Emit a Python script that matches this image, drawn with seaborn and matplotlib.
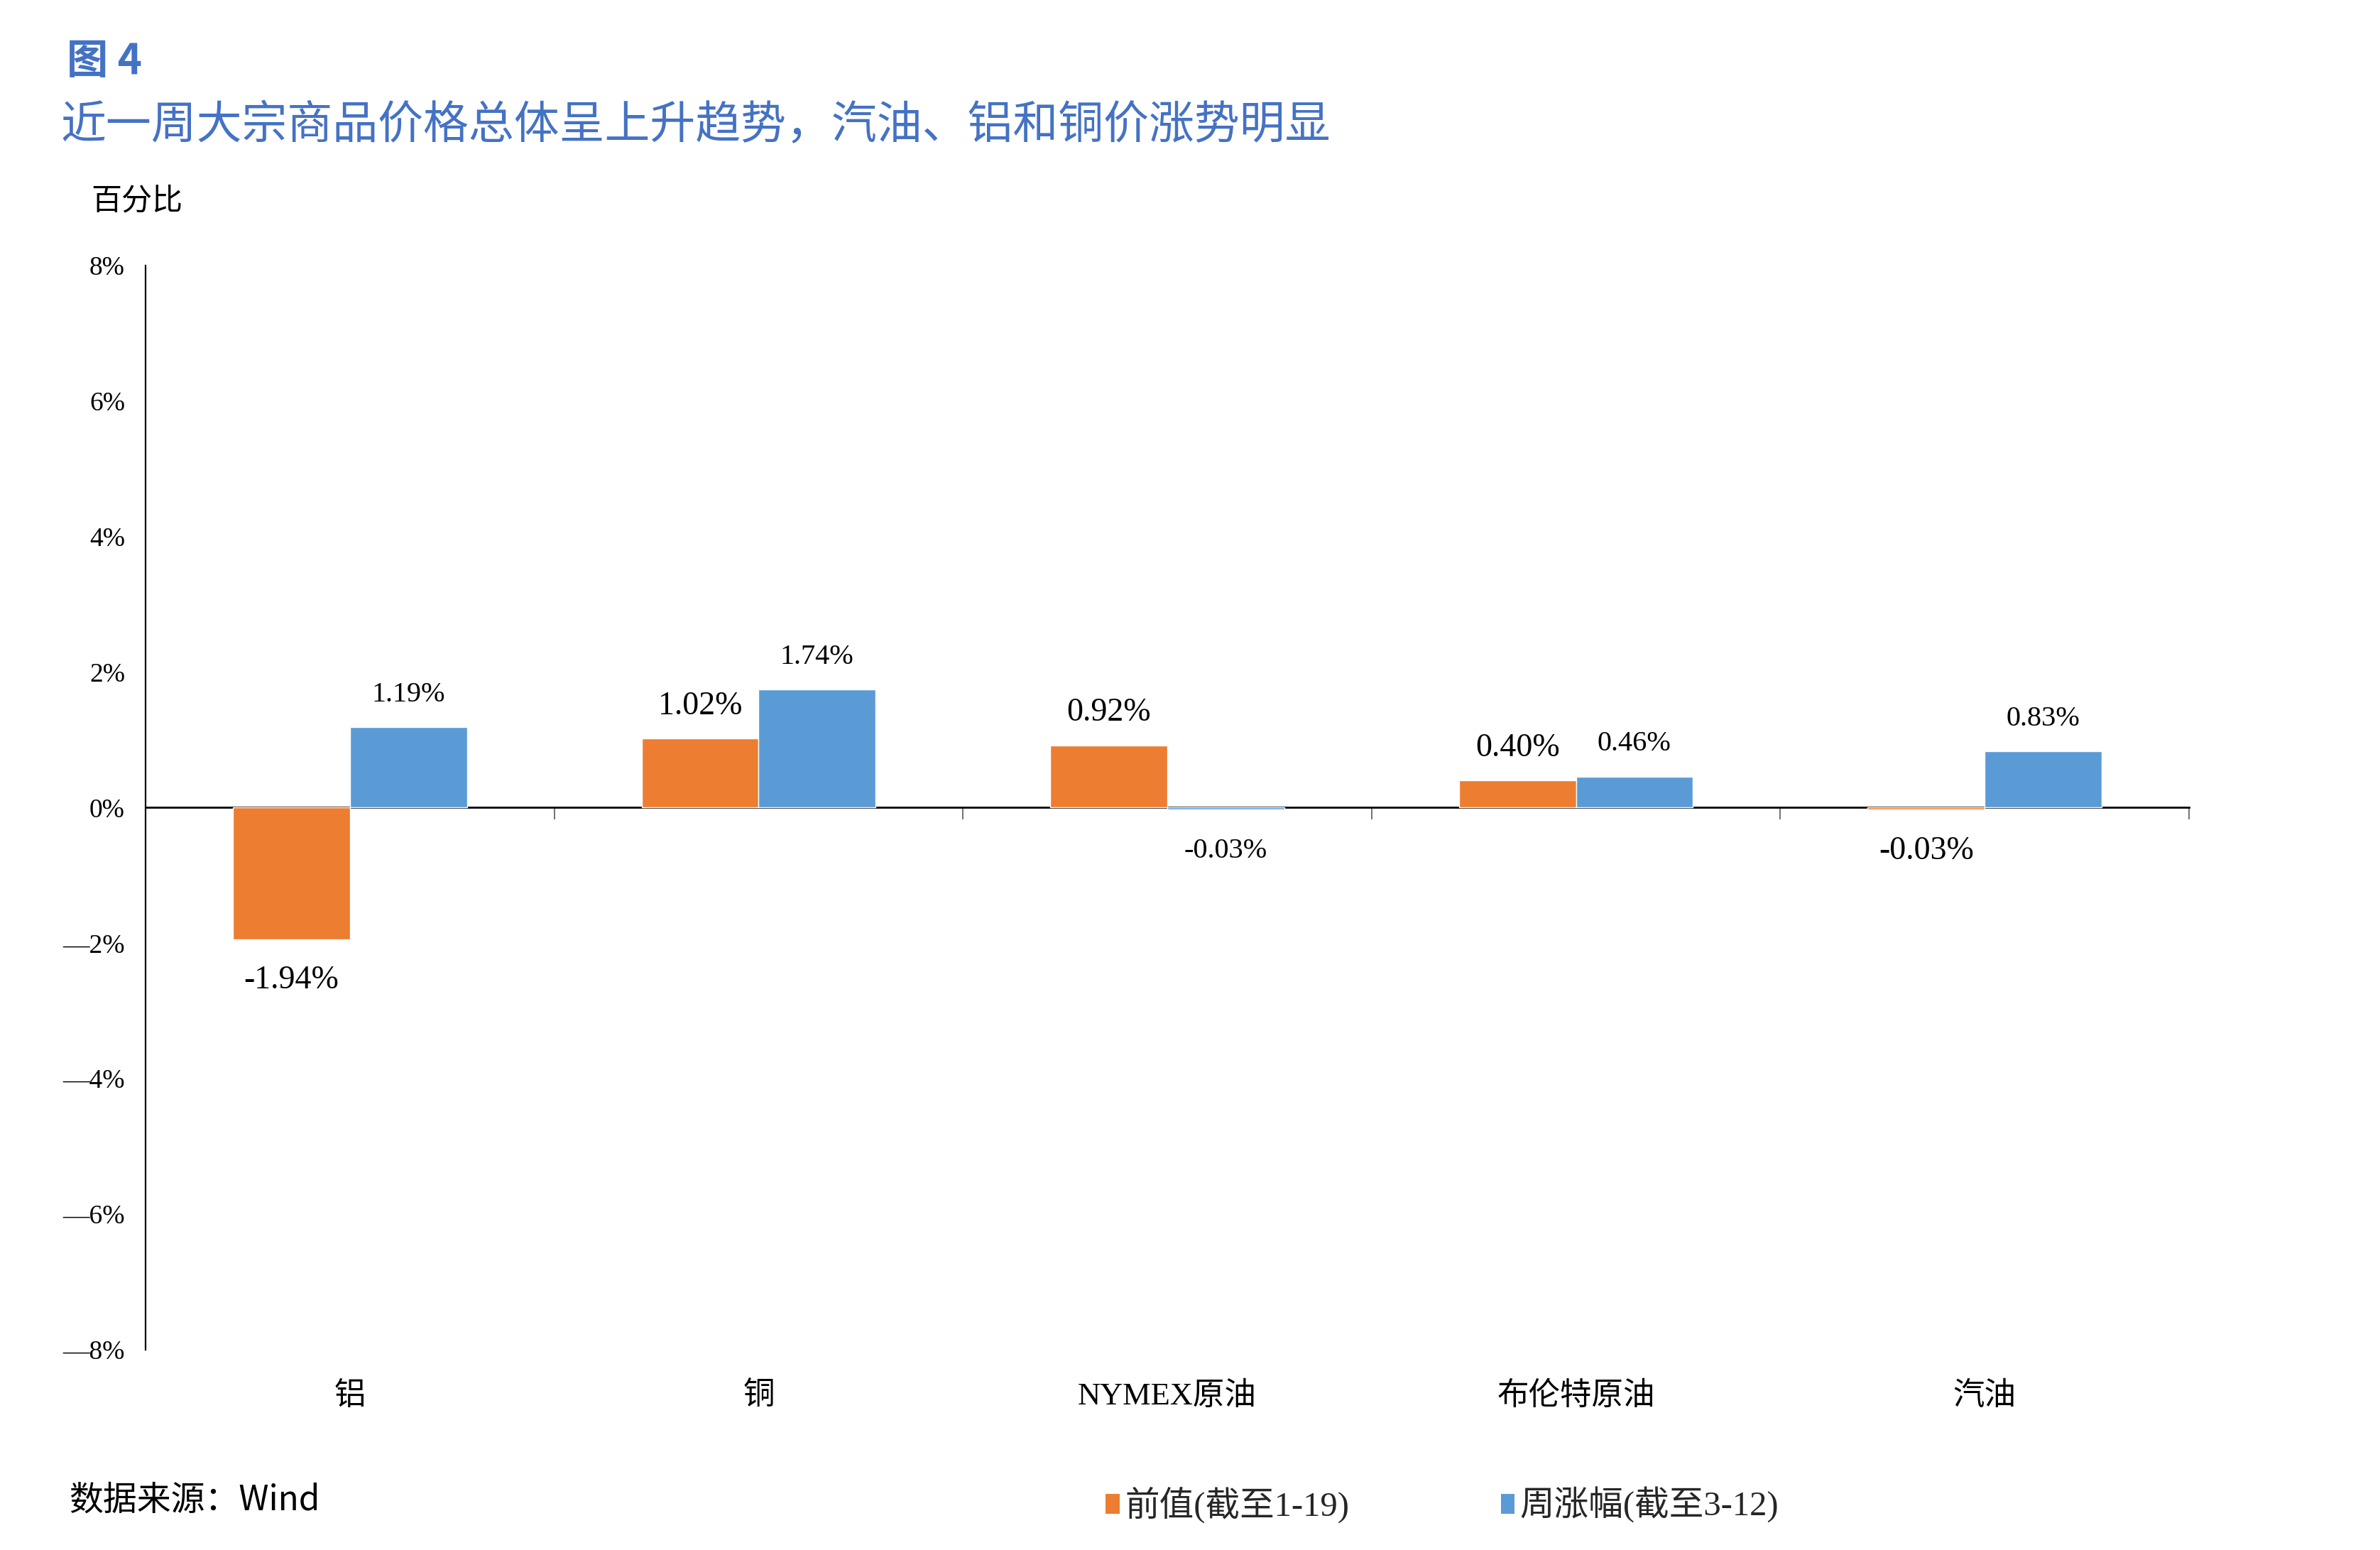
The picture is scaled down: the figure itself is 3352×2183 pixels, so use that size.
import matplotlib
matplotlib.use('Agg')
import matplotlib.pyplot as plt
import seaborn as sns
import pandas as pd
from matplotlib.patches import Patch

categories = ['铝', '铜', 'NYMEX原油', '布伦特原油', '汽油']
series_names = ['前值(截至1-19)', '周涨幅(截至3-12)']
prev_values = [-1.94, 1.02, 0.92, 0.40, -0.03]
week_values = [1.19, 1.74, -0.03, 0.46, 0.83]
y_ticks = [-8, -6, -4, -2, 0, 2, 4, 6, 8]
colors = ['#ED7D31', '#5B9BD5']
title_color = '#4472C4'

sns.set_style('white')
MIXED = ['Liberation Serif', 'Noto Sans CJK SC', 'DejaVu Sans']
CJK = ['Noto Sans CJK SC', 'DejaVu Sans']
plt.rcParams['font.family'] = MIXED
plt.rcParams['axes.unicode_minus'] = True

df = pd.DataFrame({
    'category': categories * 2,
    'series': [series_names[0]] * len(categories) + [series_names[1]] * len(categories),
    'value': prev_values + week_values,
})

fig = plt.figure(figsize=(33.52, 21.83), dpi=100)
ax = fig.add_axes([0.0612, 0.1292, 0.8585, 0.6995])
sns.barplot(data=df, x='category', y='value', hue='series', order=categories,
            hue_order=series_names, palette=colors, width=0.572, gap=0,
            saturation=1, legend=False, errorbar=None, ax=ax)

ax.set_xlim(-0.5, len(categories) - 0.5)
ax.set_ylim(-8, 8)
ax.grid(False)
ax.set_xlabel('')
ax.set_ylabel('')
for s in ['top', 'right', 'bottom']:
    ax.spines[s].set_visible(False)
ax.spines['left'].set_color('black')
ax.spines['left'].set_linewidth(1.6)

ax.set_yticks(y_ticks)
ax.set_yticklabels([f'{v}%' if v >= 0 else f'\u2014{abs(v)}%' for v in y_ticks])
ax.tick_params(axis='y', direction='out', length=12, width=1.2, color='black',
               labelsize=27, pad=9, labelcolor='black')
ax.tick_params(axis='x', length=0, labelsize=32, pad=32, labelcolor='black')

# zero line with category separator ticks
secax = ax.secondary_xaxis(0.5)
secax.set_xticks([i + 0.5 for i in range(len(categories))])
secax.tick_params(axis='x', top=False, bottom=True, labeltop=False, labelbottom=False,
                  direction='out', length=12, width=1.2, color='#595959')
for s in secax.spines.values():
    s.set_color('black')
    s.set_linewidth(2)

# data labels
label_sizes = [33, 29]
for container, vals, fs in zip(ax.containers, [prev_values, week_values], label_sizes):
    for bar, v in zip(container, vals):
        xc = bar.get_x() + bar.get_width() / 2
        off = 33 if v >= 0 else -42
        ax.annotate(f'{v:.2f}%', xy=(xc, v), xytext=(0, off), textcoords='offset points',
                    ha='center', va='center', fontsize=fs, color='black', family=MIXED)

fig.text(0.028, 0.960, '图 4', fontsize=42, fontweight='bold', color=title_color,
         family=CJK, va='center', ha='left')
fig.text(0.0256, 0.919, '近一周大宗商品价格总体呈上升趋势，汽油、铝和铜价涨势明显',
         fontsize=46, color=title_color, family=CJK, va='center', ha='left')
fig.text(0.0383, 0.870, '百分比', fontsize=31, color='black', family=CJK,
         va='center', ha='left')
fig.text(0.029, 0.032, '数据来源：Wind', fontsize=34.5, color='black', family=CJK,
         va='center', ha='left')

handles = [Patch(facecolor=c, edgecolor='none') for c in colors]
fig.legend(handles=handles, labels=series_names, loc='center',
           bbox_to_anchor=(0.606, 0.029), ncol=2, frameon=False,
           prop={'family': MIXED, 'size': 35}, handlelength=0.4, handleheight=0.5,
           handletextpad=0.15, columnspacing=4.4)

fig.savefig('out.png', dpi=100)
